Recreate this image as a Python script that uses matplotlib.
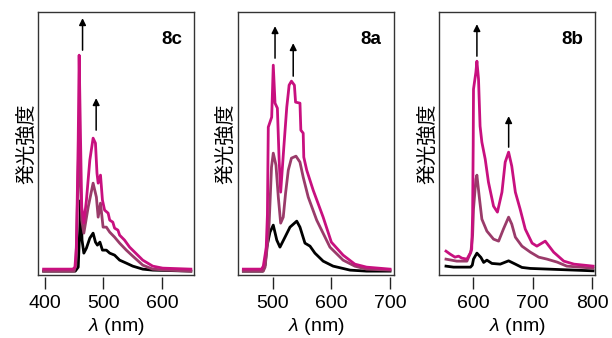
import matplotlib
matplotlib.use('Agg')
import matplotlib.pyplot as plt

plt.rcParams['font.family'] = ['Liberation Sans', 'DejaVu Sans']
plt.rcParams['mathtext.fontset'] = 'custom'
plt.rcParams['mathtext.it'] = 'Liberation Sans:italic'
plt.rcParams['mathtext.rm'] = 'Liberation Sans'

# --- 8c ---
wl_8c_m = [398, 448, 451.4, 454, 457, 458.6, 461, 463, 466.6, 471, 476.8, 482.4, 486.4, 489, 491, 495,
           498.3, 502, 508, 510.7, 516, 519, 524.7, 527.6, 536, 544.6, 567, 584, 601, 649]
int_8c_m = [6, 6, 8, 28, 135, 220, 135, 68, 52, 75, 115, 137, 132, 102, 92, 100,
            75, 65, 62, 55, 53, 47, 45, 40, 35, 28, 15, 9, 7, 6]
wl_8c_v = [398, 450, 453, 456, 458.6, 461, 463, 466.6, 474, 482.4, 488, 491, 495, 499.4, 505, 510.7,
           519, 527.6, 539, 550, 567, 584, 607, 649]
int_8c_v = [4, 4, 10, 80, 150, 90, 55, 42, 68, 92, 78, 58, 72, 48, 48, 43,
            38, 32, 25, 19, 10, 6, 5, 4]
wl_8c_k = [398, 452, 457, 459.8, 461.5, 463.5, 466.6, 471, 476.8, 482.4, 486.4, 489.7, 494, 498.3,
           505, 510.7, 519, 527.6, 539, 550, 567, 584, 649]
int_8c_k = [4, 4, 8, 48, 75, 35, 22, 27, 37, 42, 33, 30, 33, 25,
            25, 22, 20, 15, 12, 9, 6, 5, 4]

# --- 8a ---
wl_8a_m = [450, 481, 484, 487, 489, 491, 492.5, 498.3, 501, 504, 508, 511, 513.6, 519, 524, 526.6,
           528, 532, 537, 539, 546.5, 548, 552, 553, 558, 569, 586, 600, 620, 640, 660, 700]
int_8a_m = [6, 6, 9, 20, 28, 60, 148, 158, 210, 172, 167, 115, 83, 128, 168, 182,
            190, 194, 190, 173, 172, 145, 142, 118, 105, 85, 58, 33, 20, 11, 8, 6]
wl_8a_v = [450, 484, 487, 491, 494, 498, 501, 505.6, 509.6, 513.6, 518, 522, 526.6, 532, 539.7,
           546.5, 552, 560.6, 575, 597.6, 620, 640, 660, 700]
int_8a_v = [4, 4, 8, 30, 52, 108, 122, 110, 78, 52, 58, 82, 105, 117, 119,
            113, 98, 78, 55, 28, 15, 9, 6, 5]
wl_8a_k = [450, 483, 487, 490, 495.4, 501, 507, 512.4, 521, 529.5, 541, 546.5, 555, 563.6, 572,
           586, 603, 632, 660, 700]
int_8a_k = [4, 4, 10, 28, 43, 50, 35, 28, 38, 48, 54, 48, 32, 29, 22,
            14, 9, 5, 4, 4]

# --- 8b ---
wl_8b_m = [555, 562, 570, 576, 581.5, 590, 595.5, 598, 599.5, 600.5, 601, 605, 606.7, 609.4, 612,
           615, 620.6, 626, 634.5, 641, 648.6, 654, 659.7, 665, 671, 679, 687.6, 699, 707, 721,
           735, 752, 769, 801]
int_8b_m = [24, 21, 18, 19, 17, 16, 22, 26, 60, 130, 186, 203, 214, 196, 149,
            133, 116, 93, 69, 63, 83, 113, 123, 109, 83, 66, 46, 32, 29, 34,
            23, 14, 11, 9]
wl_8b_v = [555, 573, 590, 596.6, 599.5, 601, 605, 606.7, 610.5, 615, 623.4, 634.5, 643, 651, 659.7,
           665, 671, 682, 696, 710, 724, 741, 757, 801]
int_8b_v = [16, 14, 14, 23, 40, 66, 96, 100, 79, 56, 44, 36, 34, 46, 58,
            51, 38, 29, 23, 18, 16, 13, 9, 7]
wl_8b_k = [555, 567.6, 596, 599, 601, 606.7, 613.4, 618, 623.4, 631.8, 645.7, 659.7, 671, 682, 696, 801]
int_8b_k = [9, 8, 8, 10, 16, 22, 17.7, 12.7, 15, 11.7, 11, 14.3, 11, 7.7, 6.7, 4.3]

labels = ['8c', '8a', '8b']
xlims = [(389, 655), (441, 707), (544, 805)]
xticks = [[400, 500, 600], [500, 600, 700], [600, 700, 800]]
arrows = [[(464.4, 225, 257), (487.6, 145, 177)],
          [(504, 217, 249), (535, 199, 232)],
          [(606.7, 219, 251), (659.8, 128, 159)]]
curves = [[(wl_8c_k, int_8c_k), (wl_8c_v, int_8c_v), (wl_8c_m, int_8c_m)],
          [(wl_8a_k, int_8a_k), (wl_8a_v, int_8a_v), (wl_8a_m, int_8a_m)],
          [(wl_8b_k, int_8b_k), (wl_8b_v, int_8b_v), (wl_8b_m, int_8b_m)]]
colors = ['#000000', '#9a3b6a', '#c8107f']
lefts = [0.0626, 0.389, 0.718]

fig = plt.figure(figsize=(6.12, 3.38), dpi=100)
for i in range(3):
    ax = fig.add_axes([lefts[i], 0.186, 0.255, 0.778])
    for (x, y), c in zip(curves[i], colors):
        ax.plot(x, y, color=c, lw=2.0, solid_joinstyle='round')
    for xa, y0, y1 in arrows[i]:
        ax.annotate('', xy=(xa, y1), xytext=(xa, y0),
                    arrowprops=dict(arrowstyle='-|>', color='black', lw=1.1,
                                    mutation_scale=10, shrinkA=0, shrinkB=0))
    ax.set_xlim(*xlims[i])
    ax.set_ylim(0, 263)
    ax.set_yticks([])
    ax.tick_params(axis='x', bottom=False, labelbottom=False)
    for s in ax.spines.values():
        s.set_color('#333333')
        s.set_linewidth(1.0)
    ax.text(0.92, 0.93, labels[i], transform=ax.transAxes, ha='right', va='top',
            fontsize=13.5, fontweight='bold')
    ax.set_ylabel('発光強度', family=['Noto Sans CJK JP'], fontsize=14.5, labelpad=1)

    sec = ax.secondary_xaxis(-0.008)
    sec.spines['bottom'].set_visible(False)
    sec.set_xticks(xticks[i])
    sec.tick_params(length=8.5, width=1.0, pad=4, labelsize=14, color='#222222')
    sec.set_xlabel(r'$\lambda$ (nm)', fontsize=14, labelpad=3)

fig.savefig('out.png', dpi=100)
